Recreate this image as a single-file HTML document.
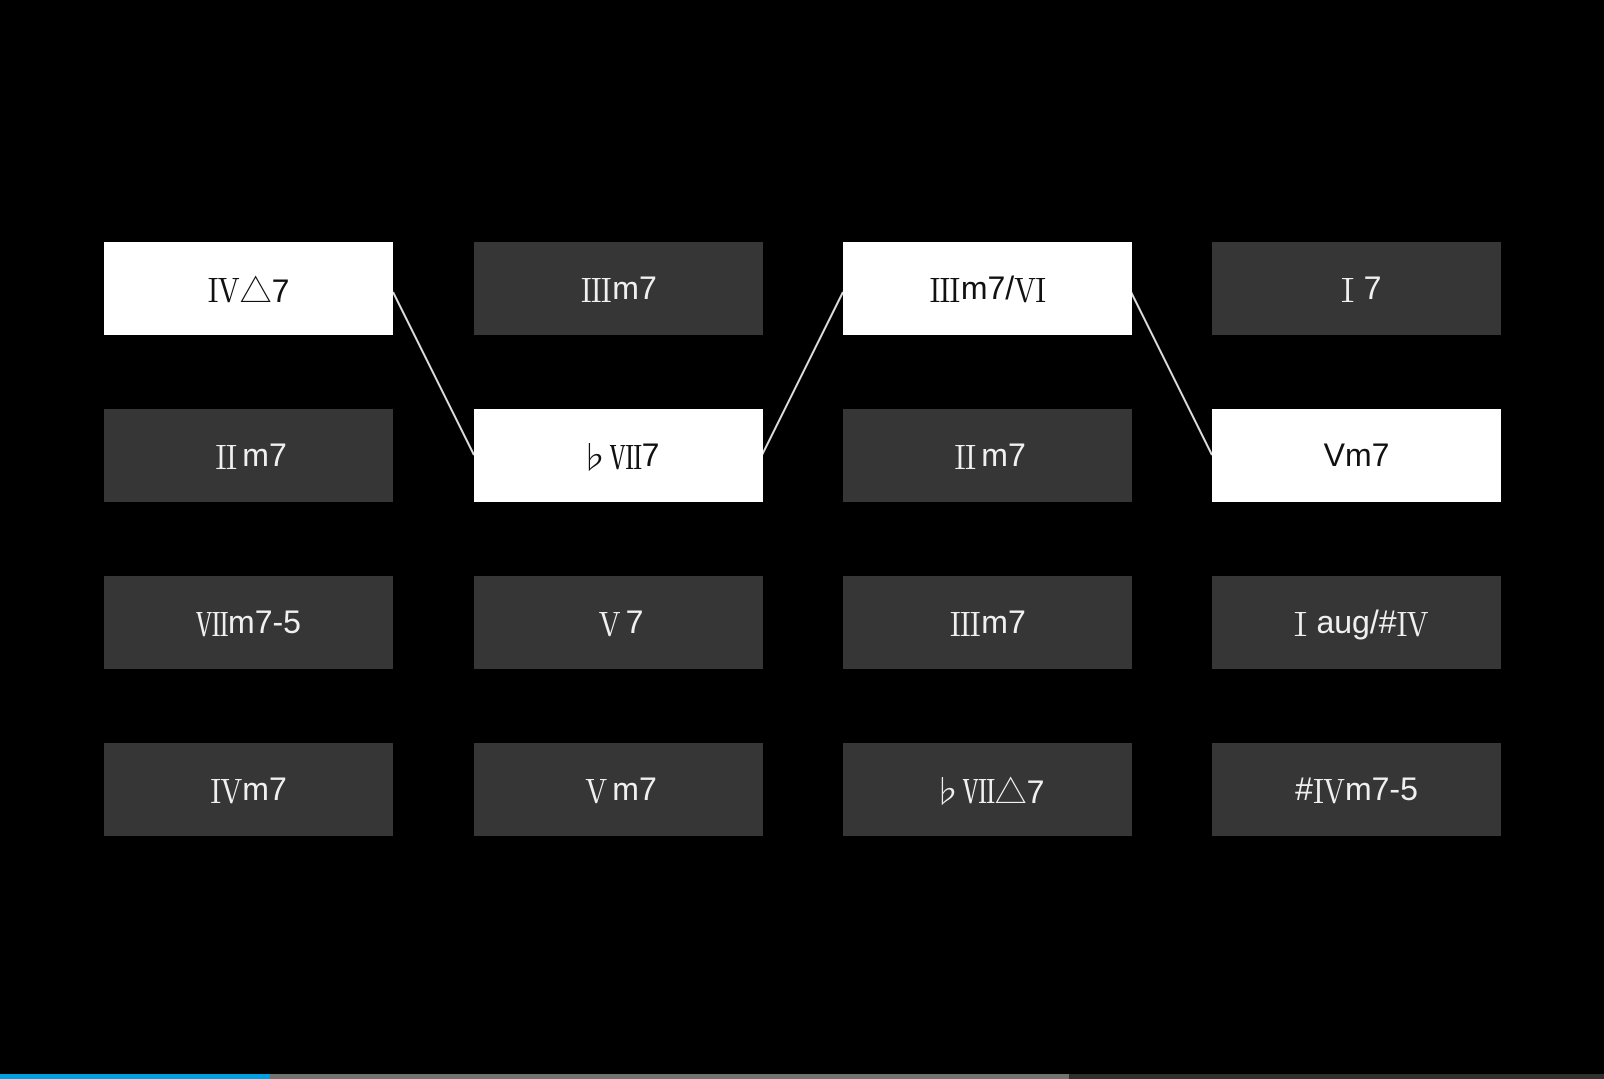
<!DOCTYPE html>
<html><head><meta charset="utf-8"><style>
html,body{margin:0;padding:0;background:#000;width:1604px;height:1079px;overflow:hidden;position:relative}
.b{position:absolute;width:289px;height:93px;background:#363636;color:#f0f0f0;display:flex;align-items:center;justify-content:center;font-family:"Liberation Sans","Noto Sans CJK JP",sans-serif;font-size:32px}
.b span{font-family:"Noto Serif CJK SC","Liberation Serif",serif}
.w{background:#fff;color:#111}
.bar{position:absolute;top:1074px;height:5px}
</style></head><body>
<svg style="position:absolute;left:0;top:0" width="1604" height="1079">
<g stroke="#ddd" stroke-width="2" fill="none">
<line x1="393" y1="292" x2="474" y2="455"/>
<line x1="762" y1="455" x2="843" y2="292"/>
<line x1="1131" y1="292" x2="1212" y2="455"/>
</g></svg>
<div class="b w" style="left:104px;top:242px"><span>Ⅳ</span>△7</div>
<div class="b" style="left:474px;top:242px"><span>Ⅲ</span>m7</div>
<div class="b w" style="left:843px;top:242px"><span>Ⅲ</span>m7/<span>Ⅵ</span></div>
<div class="b" style="left:1212px;top:242px"><span>Ⅰ</span>7</div>
<div class="b" style="left:104px;top:409px"><span>Ⅱ</span>m7</div>
<div class="b w" style="left:474px;top:409px"><span>♭Ⅶ</span>7</div>
<div class="b" style="left:843px;top:409px"><span>Ⅱ</span>m7</div>
<div class="b w" style="left:1212px;top:409px">Vm7</div>
<div class="b" style="left:104px;top:576px"><span>Ⅶ</span>m7-5</div>
<div class="b" style="left:474px;top:576px"><span>Ⅴ</span>7</div>
<div class="b" style="left:843px;top:576px"><span>Ⅲ</span>m7</div>
<div class="b" style="left:1212px;top:576px"><span>Ⅰ</span>aug/#<span>Ⅳ</span></div>
<div class="b" style="left:104px;top:743px"><span>Ⅳ</span>m7</div>
<div class="b" style="left:474px;top:743px"><span>Ⅴ</span>m7</div>
<div class="b" style="left:843px;top:743px"><span>♭Ⅶ</span>△7</div>
<div class="b" style="left:1212px;top:743px">#<span>Ⅳ</span>m7-5</div>
<div class="bar" style="left:0;width:270px;background:#00a0e0"></div>
<div class="bar" style="left:270px;width:799px;background:#737373"></div>
<div class="bar" style="left:1069px;width:535px;background:#303030"></div>
</body></html>
